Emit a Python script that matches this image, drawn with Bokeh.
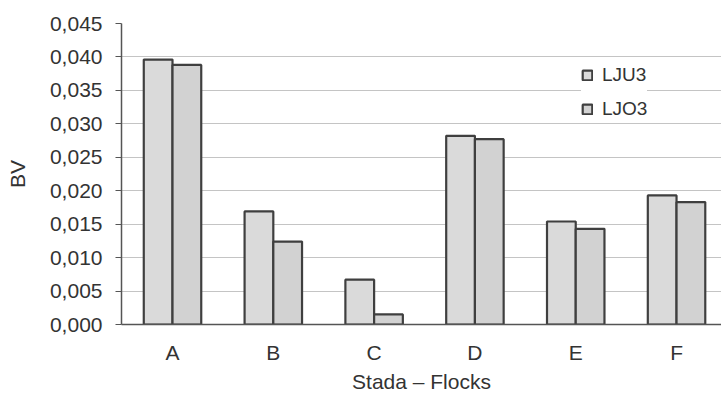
from bokeh.plotting import figure
from bokeh.models import ColumnDataSource, Legend, LegendItem, SingleIntervalTicker, FixedTicker, CustomJSTickFormatter, Range1d
from bokeh.transform import dodge
from bokeh.embed import file_html
from bokeh.resources import INLINE

categories = ["A", "B", "C", "D", "E", "F"]
lju3 = [0.0396, 0.0169, 0.0067, 0.0282, 0.0154, 0.0193]
ljo3 = [0.0388, 0.0124, 0.0015, 0.0277, 0.0143, 0.0183]
series_names = ["LJU3", "LJO3"]

FONT = "Liberation Sans"

xs = list(range(len(categories)))
src = ColumnDataSource(dict(x=xs, lju3=lju3, ljo3=ljo3))

p = figure(width=721, height=405, output_backend="svg", toolbar_location=None,
           x_range=Range1d(-0.506, 5.446), y_range=Range1d(0, 0.045),
           min_border_left=121, min_border_right=0, min_border_top=23, min_border_bottom=81)
p.outline_line_color = None
p.background_fill_color = "white"
p.border_fill_color = "white"

bw = 0.285
r1 = p.vbar(x=dodge("x", -bw / 2, range=p.x_range), top="lju3", width=bw, source=src,
            fill_color="#dadada", line_color="#3f3f3f", line_width=2.2)
r2 = p.vbar(x=dodge("x", bw / 2, range=p.x_range), top="ljo3", width=bw, source=src,
            fill_color="#d2d2d2", line_color="#3f3f3f", line_width=2.2)

# axes
p.xaxis.ticker = FixedTicker(ticks=xs)
p.xaxis.major_label_overrides = {i: c for i, c in zip(xs, categories)}
p.xaxis.major_tick_line_color = None
p.xaxis.minor_tick_line_color = None
p.xaxis.major_label_standoff = 10
p.xaxis.axis_line_color = "#555555"
p.xaxis.axis_line_width = 1.5
p.xaxis.axis_label = "Stada – Flocks"
p.xaxis.axis_label_standoff = 3

p.yaxis.ticker = SingleIntervalTicker(interval=0.005)
p.yaxis.formatter = CustomJSTickFormatter(code="return tick.toFixed(3).replace('.', ',');")
p.yaxis.major_tick_out = 6
p.yaxis.major_tick_in = 0
p.yaxis.minor_tick_line_color = None
p.yaxis.major_tick_line_color = "#555555"
p.yaxis.axis_line_color = "#555555"
p.yaxis.axis_line_width = 1.5
p.yaxis.major_label_standoff = 13
p.yaxis.axis_label = "BV"
p.yaxis.axis_label_standoff = 18

for ax in (p.xaxis[0], p.yaxis[0]):
    ax.major_label_text_font = FONT
    ax.major_label_text_font_size = "21px"
    ax.major_label_text_color = "#333333"
    ax.axis_label_text_font = FONT
    ax.axis_label_text_font_size = "21px"
    ax.axis_label_text_font_style = "normal"
    ax.axis_label_text_color = "#333333"

p.xgrid.grid_line_color = None
p.ygrid.grid_line_color = "#c4c4c4"
p.ygrid.grid_line_width = 1.2

legend = Legend(items=[LegendItem(label=series_names[0], renderers=[r1]),
                       LegendItem(label=series_names[1], renderers=[r2])],
                location=(460, 204), border_line_color=None, background_fill_color="white",
                background_fill_alpha=1.0, glyph_width=12, glyph_height=12,
                label_height=20, spacing=12, padding=5, margin=0, label_standoff=9,
                label_text_font=FONT, label_text_font_size="19px", label_text_color="#333333")
p.add_layout(legend)

open("out.html", "w").write(file_html(p, INLINE))
